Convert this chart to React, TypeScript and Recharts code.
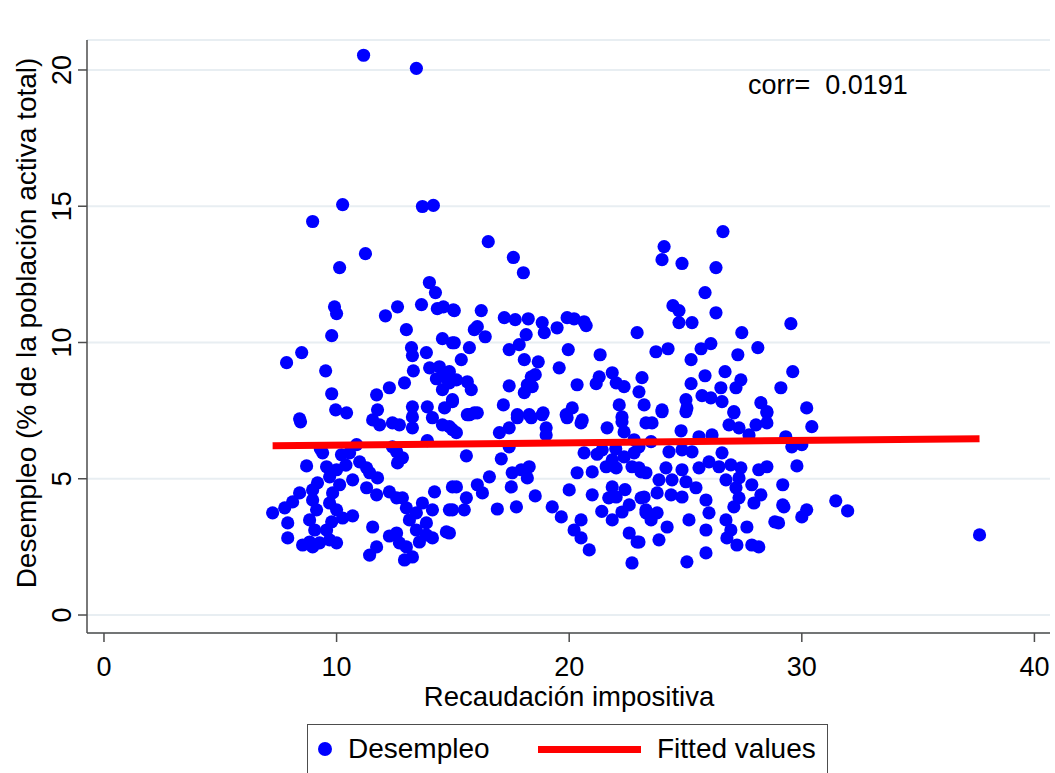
import React from 'react';
import { ScatterChart, Scatter, XAxis, YAxis, CartesianGrid, Legend } from 'recharts';

// Stata-style scatter: unemployment vs tax revenue, with linear fit

const FONT = '"Liberation Sans", Arial, Helvetica, sans-serif';

const xTicks = [0, 10, 20, 30, 40];
const yTicks = [0, 5, 10, 15, 20];

// [recaudación impositiva, desempleo], grouped by zone
const topOutliers: [number, number][] = [
  [11.16, 20.54], [13.43, 20.06], [10.26, 15.06], [13.69, 14.99], [14.16, 15.03],
];

const westUpper: [number, number][] = [
  [8.97, 14.44], [11.24, 13.26], [10.13, 12.75], [13.99, 12.2], [14.25, 11.83], [9.91, 11.31],
  [10.0, 11.06], [12.62, 11.31], [12.1, 10.98], [13.65, 11.39], [14.33, 11.24], [14.59, 11.31],
  [15.02, 11.2], [13.0, 10.47], [9.79, 10.25], [14.55, 10.14], [14.98, 9.99], [13.22, 9.81],
  [13.26, 9.52], [13.86, 9.63], [8.5, 9.63], [7.85, 9.26], [9.53, 8.96], [13.3, 8.96],
  [14.0, 9.07], [14.42, 9.11], [14.64, 8.74], [14.29, 8.67], [14.85, 8.52], [12.92, 8.52],
  [12.27, 8.34], [11.72, 8.08], [9.79, 8.12], [9.96, 7.53], [10.43, 7.42], [8.41, 7.2],
  [11.76, 7.53], [13.26, 7.64], [13.9, 7.64], [14.64, 7.6], [14.98, 7.83], [14.55, 8.27],
];

const westLower: [number, number][] = [
  [8.45, 7.09], [11.55, 7.16], [11.85, 6.98], [12.4, 7.05], [12.7, 6.98], [13.26, 6.87],
  [13.26, 7.27], [14.12, 7.24], [14.55, 6.98], [14.98, 6.8], [10.86, 6.25], [12.4, 6.17],
  [12.58, 5.99], [9.4, 5.95], [10.21, 5.88], [10.56, 5.95], [8.71, 5.47], [10.99, 5.62],
  [11.29, 5.4], [11.42, 5.22], [12.83, 5.77], [12.62, 5.58], [9.57, 5.44], [10.0, 5.33],
  [9.7, 5.07], [9.18, 4.85], [8.97, 4.59], [11.76, 5.03], [10.69, 4.96], [10.13, 4.78],
  [9.83, 4.48], [11.29, 4.67], [11.72, 4.41], [12.27, 4.52], [12.58, 4.3], [12.83, 4.3],
  [13.0, 3.93], [8.41, 4.48], [8.11, 4.15], [7.77, 3.93], [7.25, 3.75], [7.9, 3.38],
  [7.9, 2.83], [8.97, 4.22], [9.14, 3.86], [8.84, 3.49], [9.06, 3.12], [8.84, 2.68],
  [9.7, 4.11], [10.0, 3.86], [10.69, 3.64], [10.26, 3.56], [9.79, 3.42], [9.57, 3.12],
  [9.7, 2.76], [10.0, 2.65], [9.27, 2.65], [8.54, 2.57], [8.97, 2.5], [11.55, 3.23],
  [12.27, 2.9], [12.58, 3.01], [12.7, 2.65], [13.0, 2.5], [13.26, 2.13], [12.92, 2.02],
  [11.72, 2.5], [11.42, 2.2], [13.69, 4.11], [14.12, 3.86], [13.43, 3.75], [13.13, 3.49],
  [13.86, 3.38], [13.43, 3.12], [13.86, 2.94], [13.56, 2.68], [14.12, 2.83], [14.72, 3.05],
  [14.85, 3.86], [14.98, 4.7], [14.21, 4.52], [9.3, 6.1], [10.4, 5.5], [13.9, 6.4],
];

const centerUpper: [number, number][] = [
  [16.52, 13.7], [17.6, 13.12], [18.03, 12.56], [15.06, 11.17], [16.22, 11.17], [17.21, 10.91],
  [17.68, 10.84], [18.24, 10.87], [18.84, 10.73], [18.93, 10.36], [19.48, 10.54], [19.91, 10.91],
  [20.21, 10.87], [20.64, 10.76], [20.73, 10.62], [22.92, 10.36], [15.92, 10.47], [16.05, 10.58],
  [16.39, 10.21], [15.06, 9.99], [15.71, 9.81], [15.36, 9.37], [18.15, 10.29], [17.85, 9.92],
  [17.42, 9.74], [19.96, 9.74], [21.33, 9.55], [18.07, 9.37], [18.67, 9.29], [19.57, 9.07],
  [14.85, 8.93], [15.15, 8.63], [15.62, 8.56], [15.79, 8.27], [14.98, 7.9], [18.37, 8.74],
  [18.54, 8.82], [18.2, 8.45], [18.41, 8.38], [18.07, 8.16], [17.42, 8.41], [20.34, 8.45],
  [21.29, 8.74], [21.85, 8.89], [22.02, 8.52], [22.36, 8.38], [21.16, 8.49], [23.13, 8.71],
  [23.0, 8.19], [23.22, 7.71], [17.17, 7.71], [17.77, 7.35], [18.28, 7.35], [18.88, 7.42],
  [15.92, 7.42], [15.62, 7.35], [20.13, 7.6], [19.87, 7.35], [20.56, 7.16], [22.15, 7.71],
  [22.27, 7.27],
];

const centerLower: [number, number][] = [
  [15.71, 7.35], [16.05, 7.42], [15.15, 6.69], [14.85, 6.91], [17.0, 6.69], [17.42, 6.87],
  [17.77, 7.24], [18.37, 7.24], [18.84, 7.35], [19.01, 6.87], [19.01, 6.61], [19.91, 7.24],
  [20.51, 7.05], [17.42, 6.17], [21.63, 6.87], [22.27, 7.09], [22.36, 6.72], [22.79, 6.43],
  [23.3, 7.05], [15.58, 5.84], [17.08, 5.73], [20.64, 5.95], [21.42, 6.06], [21.85, 5.69],
  [22.02, 5.4], [21.59, 5.44], [22.36, 5.8], [22.7, 5.44], [22.79, 5.95], [17.55, 5.22],
  [17.94, 5.33], [18.28, 5.44], [18.2, 5.03], [17.51, 4.7], [16.57, 5.07], [16.05, 4.78],
  [16.27, 4.48], [15.15, 4.7], [15.58, 4.3], [15.49, 3.86], [14.98, 3.86], [18.54, 4.37],
  [17.73, 3.97], [16.91, 3.89], [19.27, 3.97], [19.66, 3.6], [20.0, 4.59], [20.34, 5.22],
  [20.99, 5.25], [20.99, 4.41], [20.51, 3.49], [20.21, 3.12], [20.51, 2.83], [20.86, 2.39],
  [21.85, 4.7], [22.02, 4.33], [22.58, 4.04], [23.09, 4.3], [22.27, 3.78], [21.85, 3.49],
  [22.58, 3.01], [22.92, 2.68], [22.7, 1.91], [14.85, 3.01], [23.09, 5.25], [23.3, 3.75],
  [21.2, 5.9], [22.0, 6.1], [21.7, 4.3], [22.4, 4.6], [21.4, 3.8],
];

const eastUpper: [number, number][] = [
  [26.61, 14.07], [24.08, 13.52], [23.99, 13.04], [24.85, 12.9], [26.31, 12.75], [25.84, 11.83],
  [24.46, 11.35], [24.72, 11.17], [24.72, 10.73], [25.28, 10.73], [26.31, 11.09], [29.53, 10.69],
  [27.42, 10.36], [23.73, 9.66], [24.25, 9.77], [25.67, 9.77], [26.09, 9.96], [25.24, 9.37],
  [28.11, 9.81], [27.25, 9.55], [29.61, 8.93], [29.1, 8.34], [25.84, 8.78], [25.24, 8.49],
  [26.7, 8.93], [27.38, 8.63], [27.17, 8.34], [26.52, 8.34], [26.57, 7.83], [26.09, 7.97],
  [25.71, 8.05], [25.02, 7.9], [25.06, 7.6], [23.99, 7.53], [27.08, 7.46], [28.24, 7.79],
  [28.5, 7.46], [30.21, 7.6],
];

const eastLower: [number, number][] = [
  [23.56, 7.05], [23.99, 7.46], [25.02, 7.46], [24.81, 6.76], [26.87, 6.98], [27.3, 6.87],
  [28.03, 6.98], [28.5, 7.05], [28.5, 7.42], [27.73, 6.61], [27.08, 7.42], [30.43, 6.91],
  [25.58, 6.54], [26.14, 6.61], [29.31, 6.54], [29.57, 6.17], [30.0, 6.25], [23.52, 6.36],
  [23.0, 6.17], [24.29, 5.99], [24.85, 6.06], [25.28, 5.99], [26.57, 5.95], [26.01, 5.62],
  [25.58, 5.4], [26.44, 5.44], [26.95, 5.51], [27.38, 5.4], [28.15, 5.33], [28.5, 5.44],
  [29.79, 5.47], [23.0, 5.4], [23.3, 5.22], [24.16, 5.4], [24.85, 5.33], [23.86, 4.96],
  [24.42, 4.96], [25.02, 4.89], [25.45, 4.67], [25.88, 4.22], [24.85, 4.33], [24.38, 4.41],
  [23.78, 4.48], [23.22, 4.33], [26.74, 4.96], [27.3, 5.03], [27.17, 4.67], [27.85, 4.78],
  [27.3, 4.3], [27.08, 3.97], [28.24, 4.41], [27.94, 4.11], [29.18, 4.78], [29.18, 4.04],
  [31.46, 4.19], [30.21, 3.86], [30.0, 3.6], [28.84, 3.42], [23.3, 3.86], [23.78, 3.75],
  [23.52, 3.49], [25.15, 3.49], [26.01, 3.75], [26.74, 3.49], [26.95, 3.12], [27.64, 3.23],
  [26.78, 2.83], [27.21, 2.57], [27.85, 2.57], [28.15, 2.5], [25.88, 3.12], [24.21, 3.23],
  [23.86, 2.76], [23.0, 2.68], [25.88, 2.28], [25.06, 1.95], [29.23, 3.97], [29.0, 3.38],
  [31.97, 3.82], [37.64, 2.94],
];

// fitted values (linear fit), endpoints at min and max x
const fitX = [7.25, 37.64];
const fitY = [6.21, 6.47];

const corrLabel = 'corr=  0.0191';

const points = [
  ...topOutliers, ...westUpper, ...westLower, ...centerUpper,
  ...centerLower, ...eastUpper, ...eastLower,
].map(([x, y]) => ({ x, y }));

const fitted = fitX.map((x, i) => ({ x, y: fitY[i] }));

const AXIS = '#4d4d4d';

function Dot(props: any) {
  if (props.cx == null || props.cy == null) return <g />;
  return <circle cx={props.cx} cy={props.cy} r={6.6} fill="#0000ff" />;
}

function XTick({ x, y, payload }: any) {
  return (
    <text x={x} y={y + 32} textAnchor="middle" fontSize={27} fontFamily={FONT} fill="#000">
      {payload.value}
    </text>
  );
}

function YTick({ y, payload }: any) {
  return (
    <text
      transform={`translate(71,${y}) rotate(-90)`}
      textAnchor="middle"
      fontSize={27}
      fontFamily={FONT}
      fill="#000"
    >
      {payload.value}
    </text>
  );
}

function LegendBox() {
  return (
    <div
      style={{
        position: 'relative', width: 521, height: 60, boxSizing: 'border-box',
        border: `1.5px solid ${AXIS}`, background: '#fff', fontFamily: FONT, fontSize: 28,
        color: '#000',
      }}
    >
      <div style={{ position: 'absolute', left: 10, top: 17, width: 14, height: 14, borderRadius: 7, background: '#0000ff' }} />
      <div style={{ position: 'absolute', left: 40, top: 8, lineHeight: '32px' }}>Desempleo</div>
      <div style={{ position: 'absolute', left: 230, top: 21, width: 103, height: 7, background: '#ff0000' }} />
      <div style={{ position: 'absolute', left: 349, top: 8, lineHeight: '32px' }}>Fitted values</div>
    </div>
  );
}

export default function App() {
  return (
    <div style={{ position: 'absolute', left: 0, top: 0, width: 1055, height: 773, background: '#fff' }}>
      <ScatterChart width={1055} height={773} margin={{ top: 40, right: 5, bottom: 0, left: 0 }}>
        <CartesianGrid vertical={false} stroke="#e8eef2" strokeWidth={2} />
        <XAxis
          type="number"
          dataKey="x"
          domain={[-0.73, 40.67]}
          ticks={xTicks}
          height={140}
          tick={<XTick />}
          tickSize={9}
          axisLine={{ stroke: AXIS, strokeWidth: 1.5 }}
          tickLine={{ stroke: AXIS, strokeWidth: 1.5 }}
          allowDataOverflow
          label={{
            content: () => (
              <text x={569} y={706} textAnchor="middle" fontSize={27.5} fontFamily={FONT} fill="#000">
                Recaudación impositiva
              </text>
            ),
          }}
        />
        <YAxis
          type="number"
          dataKey="y"
          domain={[-0.66, 21.1]}
          ticks={yTicks}
          width={87}
          tick={<YTick />}
          tickSize={9}
          axisLine={{ stroke: AXIS, strokeWidth: 1.5 }}
          tickLine={{ stroke: AXIS, strokeWidth: 1.5 }}
          allowDataOverflow
          label={{
            content: () => (
              <text
                transform="translate(36,323) rotate(-90)"
                textAnchor="middle"
                fontSize={28}
                fontFamily={FONT}
                fill="#000"
              >
                Desempleo (% de la población activa total)
              </text>
            ),
          }}
        />
        <Scatter name="Desempleo" data={points} fill="#0000ff" shape={<Dot />} isAnimationActive={false} />
        <Scatter
          name="Fitted values"
          data={fitted}
          line={{ stroke: '#ff0000', strokeWidth: 7 }}
          lineType="joint"
          shape={() => <g />}
          isAnimationActive={false}
        />
        <Legend
          layout="horizontal"
          verticalAlign="middle"
          align="center"
          content={() => <LegendBox />}
          wrapperStyle={{ left: 307, top: 724, width: 521, height: 60 }}
        />
      </ScatterChart>
      <div
        style={{
          position: 'absolute', left: 748, top: 70, fontFamily: FONT, fontSize: 27,
          lineHeight: '30px', whiteSpace: 'pre', color: '#000',
        }}
      >
        {corrLabel}
      </div>
    </div>
  );
}
